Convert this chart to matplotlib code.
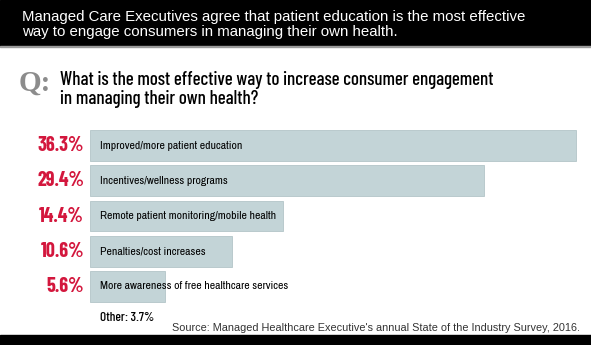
import matplotlib
matplotlib.use("Agg")
import matplotlib.pyplot as plt
from matplotlib.patches import Rectangle

W, H = 591, 345

answers = [
    "Improved/more patient education",
    "Incentives/wellness programs",
    "Remote patient monitoring/mobile health",
    "Penalties/cost increases",
    "More awareness of free healthcare services",
]
shares = [36.3, 29.4, 14.4, 10.6, 5.6]
other_share = 3.7

headline = ["Managed Care Executives agree that patient education is the most effective",
            "way to engage consumers in managing their own health."]
question = ["What is the most effective way to increase consumer engagement",
            "in managing their own health?"]
source = "Source: Managed Healthcare Executive's annual State of the Industry Survey, 2016."

COND = ["Barlow Condensed", "DejaVu Sans"]
NARROW = ["Archivo Narrow", "DejaVu Sans"]
SANS = ["Liberation Sans", "DejaVu Sans"]
RED = "#d3173d"
BAR = "#c3d4d7"


def fx(px):
    return px / W


def fy(py):
    return 1 - py / H


fig = plt.figure(figsize=(W / 100, H / 100), dpi=100)
fig.patch.set_facecolor("white")

# black bands top and bottom
fig.patches.append(Rectangle((0, fy(46)), 1, 46 / H, transform=fig.transFigure,
                             color="black", zorder=0))
fig.patches.append(Rectangle((0, 0), 1, 10 / H, transform=fig.transFigure,
                             color="black", zorder=0))
fig.patches.append(Rectangle((0, fy(47)), 1, 1 / H, transform=fig.transFigure,
                             color="#9a9a9a", zorder=0))

for base, line in zip([21, 36], headline):
    fig.text(fx(22), fy(base), line, color="white", fontsize=10.8,
             family=SANS, ha="left", va="baseline")

fig.text(fx(19), fy(91), "Q:", color="#8c8c8c", fontsize=21, fontweight="bold",
         family=["Liberation Serif", "DejaVu Serif"], ha="left", va="baseline")
for base, line in zip([85, 104], question):
    fig.text(fx(60), fy(base), line, color="black", fontsize=13.6,
             family=COND, fontweight=500, ha="left", va="baseline")

# bar chart: 13.39 px per percent, bars start at x=90
ax = fig.add_axes([fx(90), fy(304), fx(500), 176 / H])
ypos = list(range(len(shares)))
ax.barh(ypos, shares, height=0.88, color=BAR, edgecolor="#b3c5c8", linewidth=0.6)
ax.set_xlim(0, 500 / 13.39)
ax.set_ylim(len(shares) - 0.5, -0.5)
ax.axis("off")

for y, share, label in zip(ypos, shares, answers):
    ax.text(0.75, y, label, color="black", fontsize=8.4, family=NARROW,
            ha="left", va="center")
    ax.text(-0.45, y, f"{share}%", color=RED, fontsize=14.5, fontweight="bold",
            family=COND, ha="right", va="center")

fig.text(fx(100), fy(321), f"Other: {other_share}%", color="black", fontsize=9.5,
         family=COND, fontweight=500, ha="left", va="baseline")
fig.text(fx(580), fy(331), source, color="#333333", fontsize=7.8,
         family=SANS, ha="right", va="baseline")

fig.savefig("out.png", dpi=100, facecolor=fig.get_facecolor())
